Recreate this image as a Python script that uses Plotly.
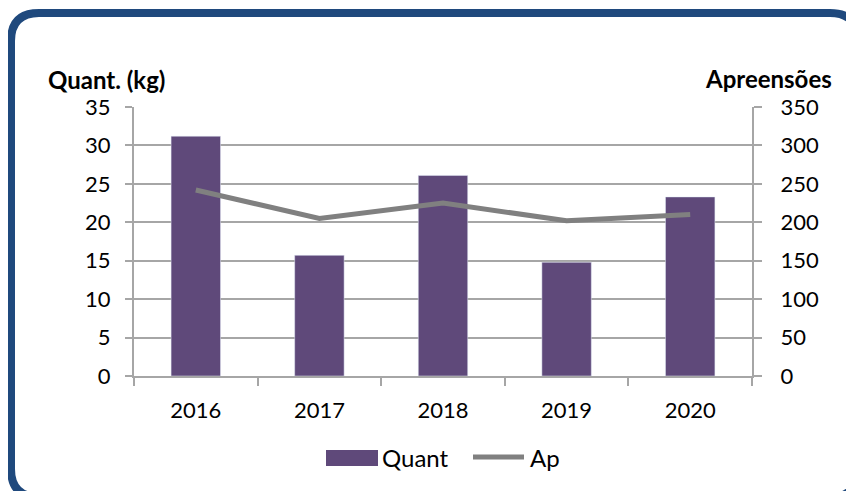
import plotly.graph_objects as go

years = ["2016", "2017", "2018", "2019", "2020"]
quant = [31.2, 15.7, 26.1, 14.8, 23.3]
apreensoes = [242, 205, 225, 202, 210]
series_names = ["Quant", "Ap"]
left_title = "Quant. (kg)"
right_title = "Apreensões"

W, H = 854, 491
OFF = 8  # page body margin
# plot area in screen pixels
L, R, T, B = 134, 752, 107, 376
pw, ph = R - L, B - T

def px(x):
    return (x - L) / pw

def py(y):
    return (B - y) / ph

FONT = "Lato, Carlito, Calibri, sans-serif"
BAR_C = "#5F497A"
LINE_C = "#808080"
GRID_C = "#A6A6A6"

fig = go.Figure()
fig.add_trace(go.Bar(x=years, y=quant, name=series_names[0], marker_color=BAR_C,
                     width=0.4, showlegend=False))
fig.add_trace(go.Scatter(x=years, y=apreensoes, name=series_names[1], yaxis="y2",
                         mode="lines", line=dict(color=LINE_C, width=5), showlegend=False))

# rounded frame
x0, y0, x1, y1, r = 11, 13, 858, 497, 28
path = (f"M {px(x0+r)},{py(y0)} L {px(x1-r)},{py(y0)} Q {px(x1)},{py(y0)} {px(x1)},{py(y0+r)} "
        f"L {px(x1)},{py(y1-r)} Q {px(x1)},{py(y1)} {px(x1-r)},{py(y1)} "
        f"L {px(x0+r)},{py(y1)} Q {px(x0)},{py(y1)} {px(x0)},{py(y1-r)} "
        f"L {px(x0)},{py(y0+r)} Q {px(x0)},{py(y0)} {px(x0+r)},{py(y0)} Z")
shapes = [dict(type="path", xref="paper", yref="paper", path=path,
               line=dict(color="#1F497D", width=8), layer="above")]

# legend (manual)
shapes.append(dict(type="rect", xref="paper", yref="paper",
                   x0=px(326), x1=px(378), y0=py(466), y1=py(450),
                   fillcolor=BAR_C, line=dict(width=0)))
shapes.append(dict(type="line", xref="paper", yref="paper",
                   x0=px(473), x1=px(524), y0=py(457), y1=py(457),
                   line=dict(color=LINE_C, width=5)))

annotations = [
    dict(text=f"<b>{left_title}</b>", xref="paper", yref="paper", x=px(46), y=py(79),
         xanchor="left", yanchor="middle", showarrow=False, font=dict(size=24, color="#000", family=FONT)),
    dict(text=f"<b>{right_title}</b>", xref="paper", yref="paper", x=px(834), y=py(78),
         xanchor="right", yanchor="middle", showarrow=False, font=dict(size=24, color="#000", family=FONT)),
    dict(text=series_names[0], xref="paper", yref="paper", x=px(380), y=py(458),
         xanchor="left", yanchor="middle", showarrow=False, font=dict(size=24, color="#000", family=FONT)),
    dict(text=series_names[1], xref="paper", yref="paper", x=px(528), y=py(458),
         xanchor="left", yanchor="middle", showarrow=False, font=dict(size=24, color="#000", family=FONT)),
]

fig.update_layout(
    width=W, height=H,
    margin=dict(l=L - OFF, r=W - (R - OFF), t=T - OFF, b=H - (B - OFF), autoexpand=False),
    paper_bgcolor="white", plot_bgcolor="white",
    font=dict(family=FONT, size=22, color="#000"),
    shapes=shapes, annotations=annotations,
    xaxis=dict(type="category", tickson="boundaries", ticks="outside", ticklen=8,
               tickcolor=GRID_C, tickwidth=2, showline=True, linecolor=GRID_C, linewidth=2,
               showgrid=False, ticklabelstandoff=14, range=[-0.5, 4.5]),
    yaxis=dict(range=[0, 35], dtick=5, ticks="outside", ticklen=7, tickcolor=GRID_C, tickwidth=2,
               showline=True, linecolor=GRID_C, linewidth=2, showgrid=True, gridcolor=GRID_C,
               gridwidth=2, zeroline=False, ticklabelstandoff=10),
    yaxis2=dict(range=[0, 350], dtick=50, overlaying="y", side="right", ticks="outside", ticklen=8,
                tickcolor=GRID_C, tickwidth=2, showline=True, linecolor=GRID_C, linewidth=2,
                showgrid=False, zeroline=False, ticklabelstandoff=14),
    bargap=0.6,
)

fig.write_html("out.html")
